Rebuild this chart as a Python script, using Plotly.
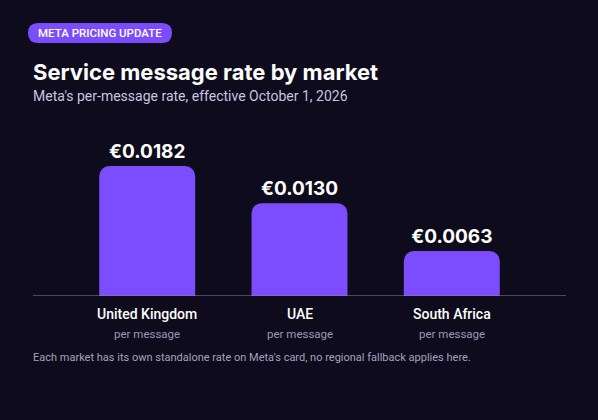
import plotly.graph_objects as go

markets = ["United Kingdom", "UAE", "South Africa"]
rates = [0.0182, 0.0130, 0.0063]
value_labels = ["€0.0182", "€0.0130", "€0.0063"]
sub_label = "per message"

BG = "#0d0b1c"
PURPLE = "#7c4dff"

L, R, T, B = 33, 32, 130, 124
W, H = 598, 420
pw, ph = W - L - R, H - T - B
def px(x): return (x - L) / pw
def py(y): return (H - B - y) / ph

fig = go.Figure(go.Bar(
    x=list(range(len(markets))), y=rates, width=0.63,
    marker=dict(color=PURPLE, cornerradius=10, line=dict(width=0)),
    text=value_labels, textposition="outside",
    textfont=dict(family="Inter", size=19, color="white", weight="bold"),
    cliponaxis=False, hoverinfo="skip"))

ann = []
for i, m in enumerate(markets):
    ann.append(dict(x=i, y=py(314), xref="x", yref="paper", text=m, showarrow=False,
                    xanchor="center", yanchor="middle",
                    font=dict(family="Roboto", size=14, color="white", weight=500)))
    ann.append(dict(x=i, y=py(334), xref="x", yref="paper", text=sub_label, showarrow=False,
                    xanchor="center", yanchor="middle",
                    font=dict(family="Roboto", size=11.5, color="#9d97b8")))
ann += [
    dict(x=px(100), y=py(33), xanchor="center", yanchor="middle", text="META PRICING UPDATE",
         font=dict(family="Roboto", size=11.5, color="white", weight=500)),
    dict(x=px(31), y=py(72), xanchor="left", yanchor="middle", text="Service message rate by market",
         font=dict(family="Inter", size=22, color="white", weight="bold")),
    dict(x=px(31), y=py(96), xanchor="left", yanchor="middle",
         text="Meta's per-message rate, effective October 1, 2026",
         font=dict(family="Roboto", size=14, color="#c9c4e0")),
    dict(x=px(31), y=py(357), xanchor="left", yanchor="middle",
         text="Each market has its own standalone rate on Meta's card, no regional fallback applies here.",
         font=dict(family="Roboto", size=11, color="#a6a1bf")),
]
for a in ann[-4:]:
    a.update(xref="paper", yref="paper", showarrow=False)

# rounded badge
x0, x1, y0, y1, r = 28, 172, 23, 43, 10
def P(x, y): return f"{px(x)},{py(y)}"
path = (f"M {P(x0+r,y0)} L {P(x1-r,y0)} Q {P(x1,y0)} {P(x1,y0+r)} Q {P(x1,y1)} {P(x1-r,y1)} "
        f"L {P(x0+r,y1)} Q {P(x0,y1)} {P(x0,y1-r)} Q {P(x0,y0)} {P(x0+r,y0)} Z")
shapes = [
    dict(type="path", xref="paper", yref="paper", path=path, fillcolor=PURPLE, line=dict(width=0), layer="below"),
    dict(type="line", xref="paper", yref="y", x0=0, x1=1, y0=0, y1=0, line=dict(color="#8a86a0", width=1)),
]

fig.update_layout(
    width=W, height=H, margin=dict(l=L, r=R, t=T, b=B),
    paper_bgcolor=BG, plot_bgcolor=BG, showlegend=False,
    xaxis=dict(range=[-0.75, 2.75], visible=False),
    yaxis=dict(range=[0, 166/7143], visible=False),
    annotations=ann, shapes=shapes,
)
fig.write_html("out.html", config={"displayModeBar": False},
               post_script="document.body.style.margin='0';document.body.style.background='#0d0b1c';")
